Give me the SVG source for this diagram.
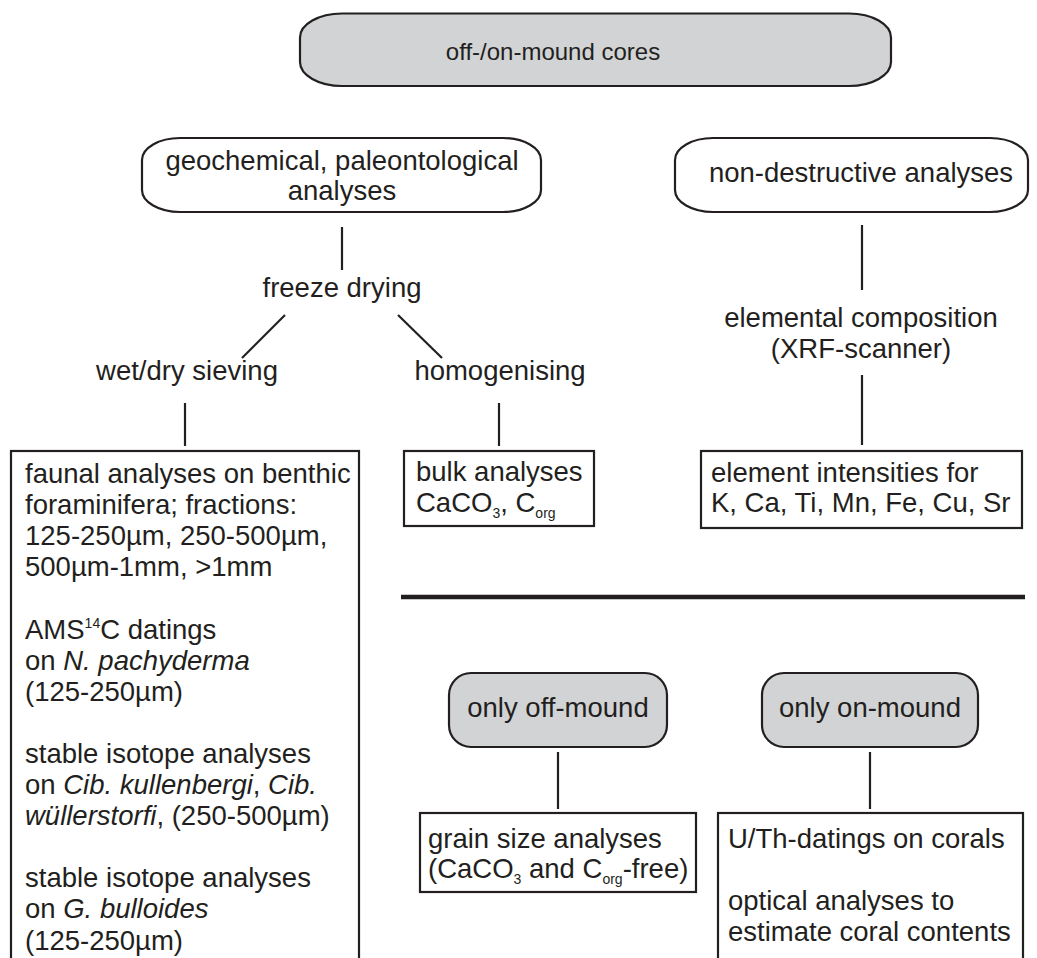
<svg xmlns="http://www.w3.org/2000/svg" width="1037" height="958" viewBox="0 0 1037 958">
<style>
text{font-family:"Liberation Sans",Arial,Helvetica,sans-serif;font-size:27.5px;fill:#231f20}
.box{fill:#fff;stroke:#231f20;stroke-width:2.2}
.gbox{fill:#d1d3d4;stroke:#231f20;stroke-width:2.2}
.c{text-anchor:middle}
.i{font-style:italic}
.sub{font-size:14px}
.title{font-size:24px}
line{stroke:#231f20;stroke-width:2.2}
</style>
<rect width="1037" height="958" fill="#fff"/>
<g id="connectors">
<line x1="342" y1="227" x2="342" y2="270"/>
<line x1="285" y1="315" x2="242" y2="358"/>
<line x1="398" y1="315" x2="442" y2="358"/>
<line x1="185" y1="403" x2="185" y2="446"/>
<line x1="499" y1="403" x2="499" y2="446"/>
<line x1="862" y1="225" x2="862" y2="290"/>
<line x1="862" y1="375" x2="862" y2="445"/>
<line x1="558" y1="752" x2="558" y2="809"/>
<line x1="870" y1="752" x2="870" y2="809"/>
</g>
<g id="separator">
<line x1="401" y1="597" x2="1025" y2="597" style="stroke-width:4.5"/>
</g>
<g id="cores">
<rect class="gbox" x="300" y="13.5" width="591" height="72.5" rx="42" ry="24"/>
<text class="c title" x="553" y="60">off-/on-mound cores</text>
</g>
<g id="geochem">
<rect class="box" x="142" y="138" width="399" height="74" rx="38" ry="22"/>
<text class="c" x="342" y="170">geochemical, paleontological</text>
<text class="c" x="342" y="200">analyses</text>
</g>
<g id="nondestructive">
<rect class="box" x="675" y="138" width="353" height="74" rx="38" ry="22"/>
<text class="c" x="861" y="182">non-destructive analyses</text>
</g>
<g id="freeze">
<text class="c" x="342" y="297">freeze drying</text>
</g>
<g id="sieving">
<text class="c" x="187" y="380">wet/dry sieving</text>
</g>
<g id="homogenising">
<text class="c" x="500" y="380">homogenising</text>
</g>
<g id="elemental">
<text class="c" x="861" y="327">elemental composition</text>
<text class="c" x="861" y="358">(XRF-scanner)</text>
</g>
<g id="faunal">
<rect class="box" x="11" y="451" width="348" height="520"/>
<text x="25" y="483">faunal analyses on benthic</text>
<text x="25" y="514.1">foraminifera; fractions:</text>
<text x="25" y="545.2">125-250µm, 250-500µm,</text>
<text x="25" y="576.3">500µm-1mm, &gt;1mm</text>
<text x="25" y="638.5">AMS<tspan class="sub" dy="-11">14</tspan><tspan dy="11">C datings</tspan></text>
<text x="25" y="669.6">on <tspan class="i">N. pachyderma</tspan></text>
<text x="25" y="700.7">(125-250µm)</text>
<text x="25" y="762.9">stable isotope analyses</text>
<text x="25" y="794">on <tspan class="i">Cib. kullenbergi</tspan>, <tspan class="i">Cib.</tspan></text>
<text x="25" y="825.1"><tspan class="i">wüllerstorfi</tspan>, (250-500µm)</text>
<text x="25" y="887.3">stable isotope analyses</text>
<text x="25" y="918.4">on <tspan class="i">G. bulloides</tspan></text>
<text x="25" y="949.5">(125-250µm)</text>
</g>
<g id="bulk">
<rect class="box" x="404" y="451" width="190" height="75"/>
<text x="416" y="481">bulk analyses</text>
<text x="416" y="512">CaCO<tspan class="sub" dy="6">3</tspan><tspan dy="-6">, C</tspan><tspan class="sub" dy="6">org</tspan></text>
</g>
<g id="intensities">
<rect class="box" x="701" y="451" width="321" height="77"/>
<text x="711" y="482">element intensities for</text>
<text x="711" y="512">K, Ca, Ti, Mn, Fe, Cu, Sr</text>
</g>
<g id="offmound">
<rect class="gbox" x="449" y="673" width="218" height="74" rx="22" ry="22"/>
<text class="c" x="558" y="717">only off-mound</text>
</g>
<g id="onmound">
<rect class="gbox" x="762" y="673" width="216" height="74" rx="22" ry="22"/>
<text class="c" x="870" y="717">only on-mound</text>
</g>
<g id="grainsize">
<rect class="box" x="420" y="813" width="276" height="79"/>
<text x="428" y="848">grain size analyses</text>
<text x="428" y="878">(CaCO<tspan class="sub" dy="6">3</tspan><tspan dy="-6"> and C</tspan><tspan class="sub" dy="6">org</tspan><tspan dy="-6">-free)</tspan></text>
</g>
<g id="coral">
<rect class="box" x="718" y="813" width="305" height="160"/>
<text x="728" y="848">U/Th-datings on corals</text>
<text x="728" y="910">optical analyses to</text>
<text x="728" y="941">estimate coral contents</text>
</g>
</svg>
